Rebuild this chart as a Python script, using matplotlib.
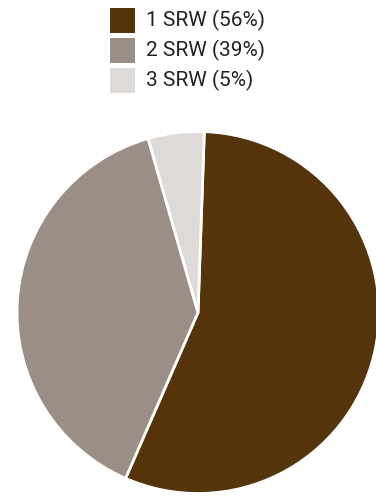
import matplotlib
matplotlib.use("Agg")
import matplotlib.pyplot as plt
from matplotlib.patches import Rectangle

labels = ["1 SRW", "2 SRW", "3 SRW"]
shares = [56, 39, 5]
colors = ["#55330B", "#9B8E86", "#DDDAD7"]

W, H = 376, 496
fig = plt.figure(figsize=(W / 100, H / 100), dpi=100)
ax = fig.add_axes([0, 0, 1, 1])

ax.pie(shares, colors=colors, startangle=88, counterclock=False,
       center=(198, H - 312.5), radius=181,
       wedgeprops=dict(edgecolor="white", linewidth=2))
ax.set_xlim(0, W)
ax.set_ylim(0, H)
ax.set_aspect("equal")
ax.axis("off")

# legend: swatch + label rows
for i, (lab, val, col) in enumerate(zip(labels, shares, colors)):
    top = 8 + 30 * i
    ax.add_patch(Rectangle((110, H - top - 25), 25, 25, facecolor=col,
                           edgecolor="none"))
    ax.text(146, H - top - 12.5, f"{lab} ({val}%)", fontsize=15,
            family="Roboto", color="#222222", va="center", ha="left")

fig.savefig("out.png", dpi=100)
